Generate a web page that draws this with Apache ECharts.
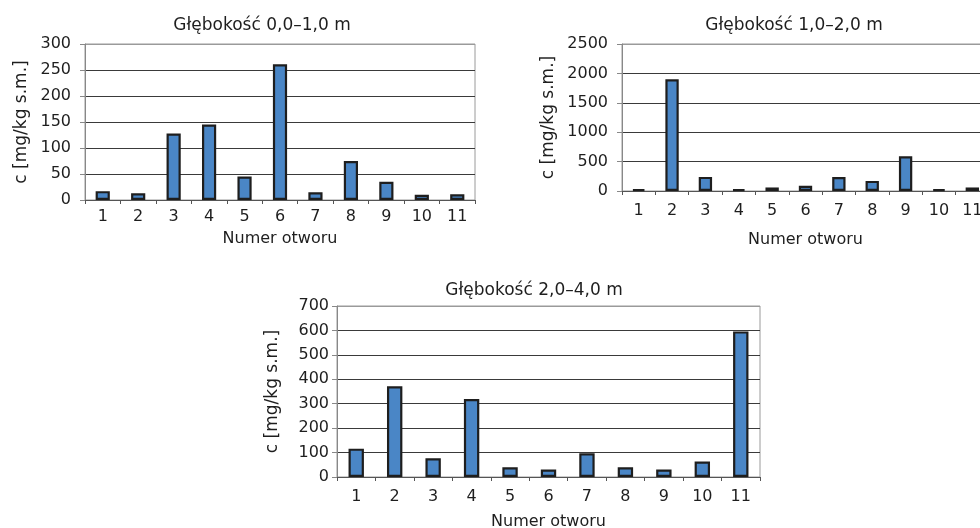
<!DOCTYPE html>
<html>
<head>
<meta charset="utf-8">
<script src="https://cdn.jsdelivr.net/npm/echarts@6/dist/echarts.min.js"></script>
<style>
html,body{margin:0;padding:0;background:#fff;}
#chart{width:980px;height:528px;}
</style>
</head>
<body>
<div id="chart"></div>
<script>
// ---- data ----
const categories = ['1','2','3','4','5','6','7','8','9','10','11'];
const titles = ['Głębokość 0,0–1,0 m', 'Głębokość 1,0–2,0 m', 'Głębokość 2,0–4,0 m'];
const depth0to1 = [17, 13, 128, 145, 45, 261, 15, 75, 35, 10, 11];
const depth1to2 = [30, 1900, 240, 30, 60, 88, 236, 172, 592, 30, 60];
const depth2to4 = [116, 371, 77, 319, 40, 31, 97, 40, 31, 63, 596];
const yMax = [300, 2500, 700];
const yInterval = [50, 500, 100];
const yName = 'c [mg/kg s.m.]';
const xName = 'Numer otworu';

// ---- layout ----
const FONT = 'DejaVu Sans';
const TXT = '#1e1e1e';
const grids = [
  {left: 85, top: 44, width: 390, height: 156},
  {left: 622, top: 44, width: 367, height: 147},
  {left: 337, top: 306, width: 423, height: 171}
];
const titlePos = [
  {x: 257, y: 12},
  {x: 789, y: 12},
  {x: 529, y: 277}
];
const yNameGap = [55, 65, 56];
const yLabelMargin = [14, 14, 8];
const xNameGap = [31, 41, 37];
const xLabelMargin = [9, 12, 12];
const seriesData = [depth0to1, depth1to2, depth2to4];

function splitColors(n) {
  const c = [];
  for (let i = 0; i < n; i++) c.push('#3a3a3a');
  c.push('#9a9a9a');
  return c;
}

const option = {
  animation: false,
  backgroundColor: '#fff',
  textStyle: {fontFamily: FONT},
  title: titlePos.map((p, i) => ({
    text: titles[i],
    left: p.x,
    top: p.y,
    textAlign: 'center',
    textStyle: {fontFamily: FONT, fontSize: 17, fontWeight: 'normal', color: TXT}
  })),
  grid: grids.map(g => Object.assign({
    show: true,
    borderColor: '#9a9a9a',
    borderWidth: 1,
    backgroundColor: 'transparent',
    containLabel: false,
    outerBoundsMode: 'none'
  }, g)),
  xAxis: grids.map((g, i) => ({
    type: 'category',
    gridIndex: i,
    data: categories,
    name: xName,
    nameLocation: 'middle',
    nameGap: xNameGap[i],
    nameTextStyle: {fontFamily: FONT, fontSize: 16, color: TXT},
    axisLine: {show: true, lineStyle: {color: '#555', width: 1}},
    axisTick: {show: true, length: 4, lineStyle: {color: '#555'}},
    axisLabel: {fontFamily: FONT, fontSize: 16, color: TXT, margin: xLabelMargin[i], interval: 0},
    splitLine: {show: false}
  })),
  yAxis: grids.map((g, i) => ({
    type: 'value',
    gridIndex: i,
    min: 0,
    max: yMax[i],
    interval: yInterval[i],
    name: yName,
    nameLocation: 'middle',
    nameRotate: 90,
    nameGap: yNameGap[i],
    nameTextStyle: {fontFamily: FONT, fontSize: 17, color: TXT},
    axisLine: {show: true, lineStyle: {color: '#888', width: 1}},
    axisTick: {show: true, length: 5, lineStyle: {color: '#888'}},
    axisLabel: {fontFamily: FONT, fontSize: 16, color: TXT, margin: yLabelMargin[i],
      formatter: v => String(v)},
    splitLine: {show: true, lineStyle: {color: splitColors(yMax[i] / yInterval[i]), width: 1}}
  })),
  series: seriesData.map((d, i) => ({
    type: 'bar',
    xAxisIndex: i,
    yAxisIndex: i,
    data: d,
    barWidth: '40%',
    itemStyle: {color: '#4a86c6', borderColor: '#1e1e1e', borderWidth: 2.2}
  }))
};

const chart = echarts.init(document.getElementById('chart'), null, {renderer: 'canvas'});
chart.setOption(option);
</script>
</body>
</html>
